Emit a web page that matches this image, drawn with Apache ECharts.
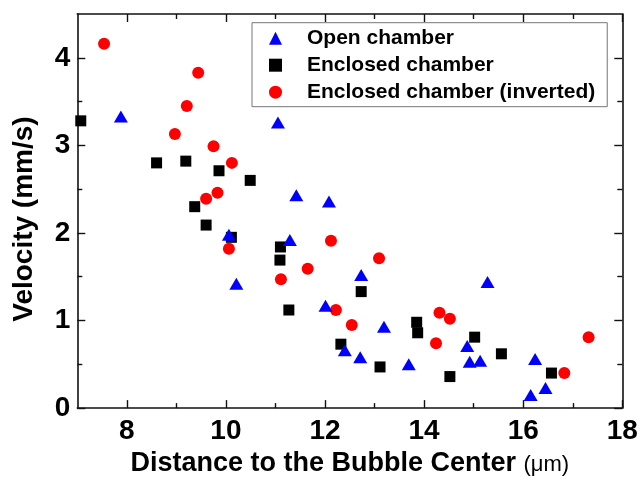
<!DOCTYPE html>
<html>
<head>
<meta charset="utf-8">
<script src="https://cdn.jsdelivr.net/npm/echarts@6/dist/echarts.min.js"></script>
<style>html,body{margin:0;padding:0;background:#fff}#c{width:642px;height:482px}</style>
</head>
<body>
<div id="c"></div>
<script>
const seriesNames = ['Open chamber', 'Enclosed chamber', 'Enclosed chamber (inverted)'];
const openX = [7.88, 11.05, 11.42, 12.08, 10.06, 11.29, 10.21, 12.73, 12.01, 15.28, 13.19, 12.40, 12.71, 13.69, 14.87, 14.92, 15.13, 16.24, 16.15, 16.45];
const openY = [3.33, 3.26, 2.43, 2.36, 1.98, 1.92, 1.42, 1.52, 1.17, 1.44, 0.93, 0.66, 0.58, 0.50, 0.71, 0.53, 0.54, 0.56, 0.15, 0.23];
const enclosedX = [7.07, 8.60, 9.19, 9.86, 10.49, 9.37, 9.60, 10.11, 11.10, 11.09, 11.27, 12.73, 12.32, 13.11, 13.85, 13.87, 14.52, 15.02, 15.56, 16.57];
const enclosedY = [3.28, 2.80, 2.82, 2.71, 2.60, 2.30, 2.09, 1.95, 1.84, 1.69, 1.12, 1.33, 0.73, 0.47, 0.98, 0.86, 0.36, 0.81, 0.62, 0.40];
const invertedX = [7.54, 9.44, 9.21, 8.97, 9.75, 10.12, 9.83, 9.60, 10.06, 11.11, 11.65, 12.12, 13.09, 12.22, 12.54, 14.31, 14.52, 14.24, 16.83, 17.32];
const invertedY = [4.16, 3.83, 3.45, 3.13, 2.99, 2.80, 2.46, 2.39, 1.82, 1.47, 1.59, 1.91, 1.71, 1.12, 0.95, 1.09, 1.02, 0.74, 0.40, 0.81];
const xMajorTicks = [8, 10, 12, 14, 16, 18];
const xMinorTicks = [9, 11, 13, 15, 17];
const yMajorTicks = [0, 1, 2, 3, 4];
const yMinorTicks = [0.5, 1.5, 2.5, 3.5];
const xTitle = 'Distance to the Bubble Center';
const xUnit = '(\u03bcm)';
const yTitle = 'Velocity (mm/s)';

const FONT = '"Liberation Sans", Arial, Helvetica, sans-serif';
const lineCol = '#111';
const pairs = (xs, ys) => xs.map((x, i) => [x, ys[i]]);

function xAx(pos, ticks, len, showLine, showLabel, extra) {
  return Object.assign({
    type: 'value', position: pos, min: 7, max: 18, gridIndex: 0,
    axisLine: { show: showLine, onZero: false, lineStyle: { color: lineCol, width: 1.6 } },
    axisTick: { show: true, inside: true, length: len, customValues: ticks, lineStyle: { color: lineCol, width: 1.4 } },
    axisLabel: showLabel ? { show: true, customValues: ticks, margin: 9, fontFamily: FONT, fontSize: 28, fontWeight: 'bold', color: '#000' } : { show: false },
    splitLine: { show: false }
  }, extra || {});
}
function yAx(pos, ticks, len, showLine, showLabel, extra) {
  return Object.assign({
    type: 'value', position: pos, min: 0, max: 4.5, gridIndex: 0,
    axisLine: { show: showLine, onZero: false, lineStyle: { color: lineCol, width: 1.6 } },
    axisTick: { show: true, inside: true, length: len, customValues: ticks, lineStyle: { color: lineCol, width: 1.4 } },
    axisLabel: showLabel ? { show: true, customValues: ticks, margin: 7, fontFamily: FONT, fontSize: 28, fontWeight: 'bold', color: '#000' } : { show: false },
    splitLine: { show: false }
  }, extra || {});
}

const chart = echarts.init(document.getElementById('c'), null, { renderer: 'canvas' });
chart.setOption({
  backgroundColor: '#ffffff',
  animation: false,
  grid: { left: 77.3, right: 19.7, top: 14, bottom: 67, containLabel: false },
  legend: {
    orient: 'vertical', left: 252, top: 22.7,
    padding: [5, 12, 4, 17],
    itemWidth: 13, itemHeight: 13, itemGap: 6,
    borderColor: '#777', borderWidth: 1,
    textStyle: { fontFamily: FONT, fontSize: 21, fontWeight: 'bold', color: '#000', lineHeight: 21, padding: [0, 0, 0, 20] },
    data: seriesNames
  },
  xAxis: [
    xAx('bottom', xMajorTicks, 8, true, true, {
      name: xTitle + ' {u|' + xUnit + '}',
      nameLocation: 'middle', nameGap: 40,
      nameTextStyle: { fontFamily: FONT, fontSize: 27, fontWeight: 'bold', color: '#000',
        rich: { u: { fontFamily: FONT, fontSize: 22, fontWeight: 'normal', color: '#000', verticalAlign: 'bottom', padding: [0, 0, 1, 0] } } }
    }),
    xAx('bottom', xMinorTicks, 5, false, false),
    xAx('top', xMajorTicks, 8, true, false),
    xAx('top', xMinorTicks, 5, false, false)
  ],
  yAxis: [
    yAx('left', yMajorTicks, 8, true, true, {
      name: yTitle, nameLocation: 'middle', nameGap: 39,
      nameTextStyle: { fontFamily: FONT, fontSize: 28, fontWeight: 'bold', color: '#000', padding: [0, 16, 0, 0] }
    }),
    yAx('left', yMinorTicks, 5, false, false),
    yAx('right', yMajorTicks, 8, true, false),
    yAx('right', yMinorTicks, 5, false, false)
  ],
  series: [
    { name: seriesNames[0], type: 'scatter', xAxisIndex: 0, yAxisIndex: 0, symbol: 'triangle', symbolSize: [14, 12],
      itemStyle: { color: '#0000ff', opacity: 1 }, data: pairs(openX, openY), z: 3 },
    { name: seriesNames[1], type: 'scatter', xAxisIndex: 0, yAxisIndex: 0, symbol: 'rect', symbolSize: 11,
      itemStyle: { color: '#000000', opacity: 1 }, data: pairs(enclosedX, enclosedY), z: 2, clip: false },
    { name: seriesNames[2], type: 'scatter', xAxisIndex: 0, yAxisIndex: 0, symbol: 'circle', symbolSize: 12,
      itemStyle: { color: '#ff0000', opacity: 1 }, data: pairs(invertedX, invertedY), z: 2 }
  ]
});
</script>
</body>
</html>
